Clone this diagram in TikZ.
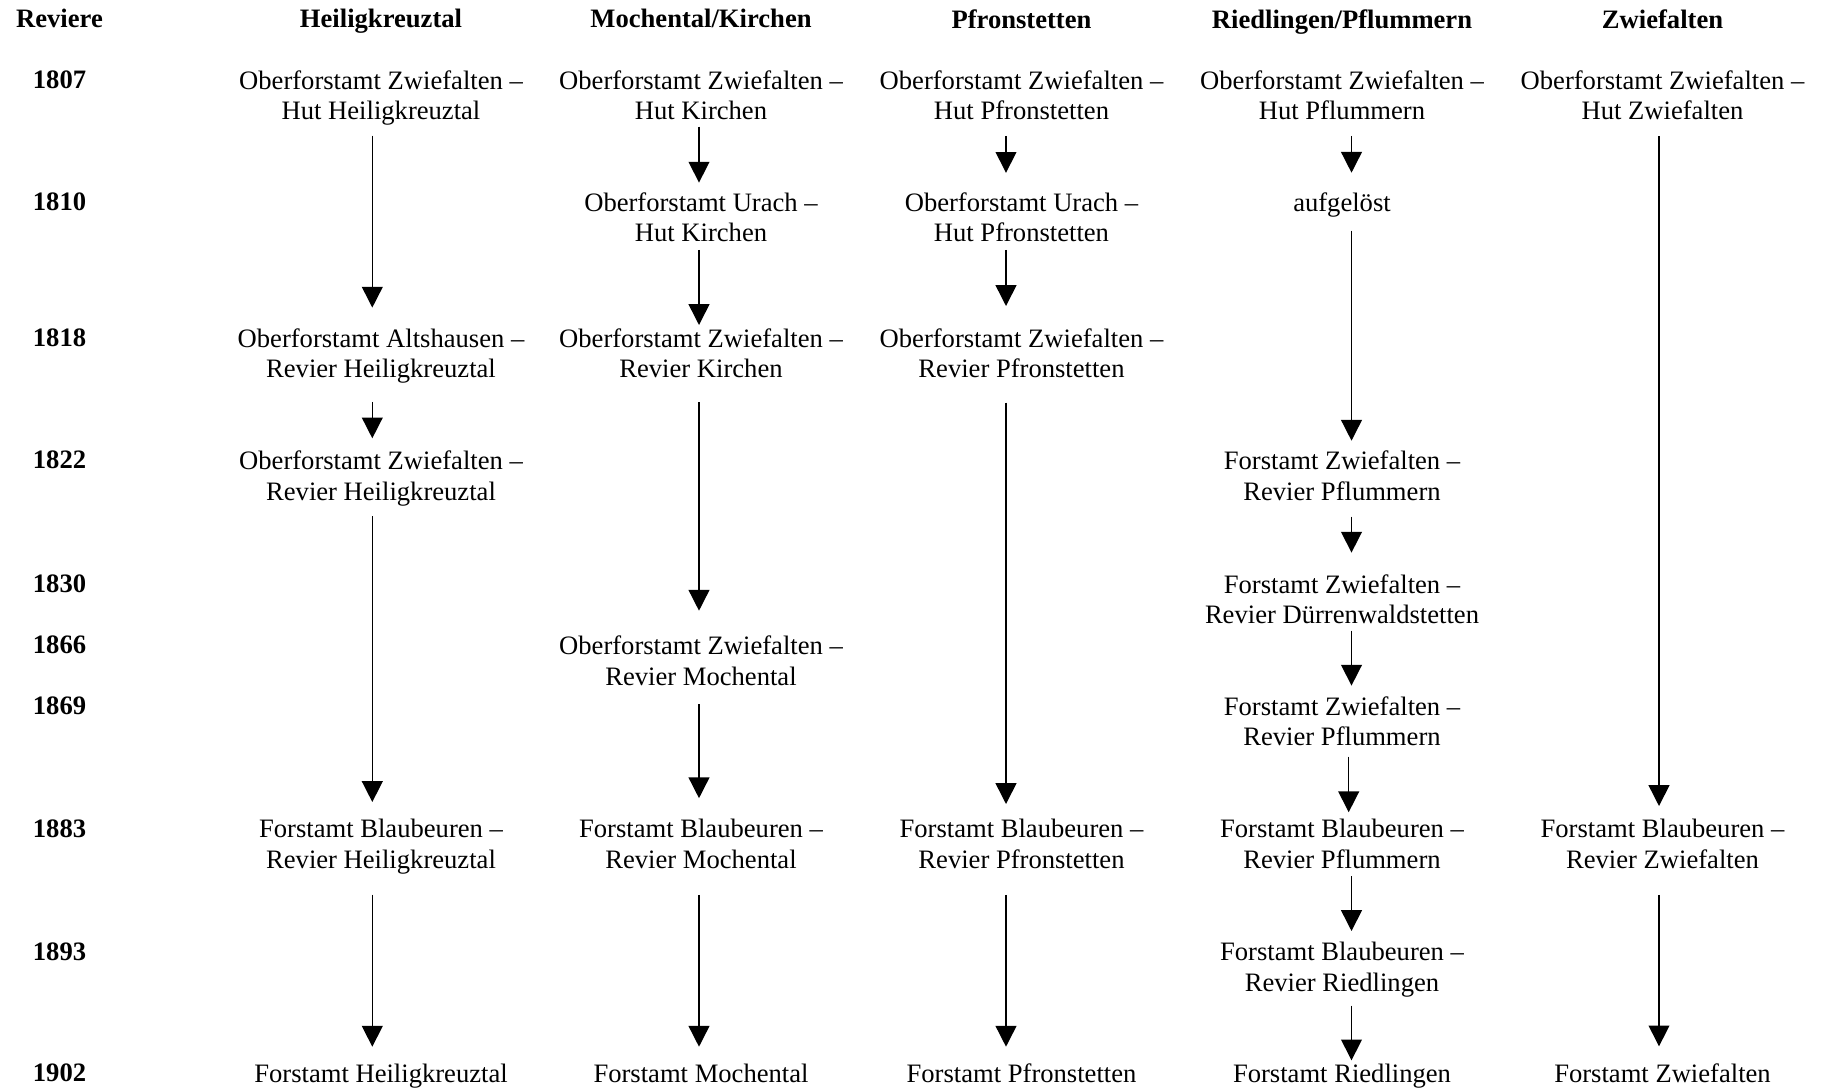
\documentclass[tikz,border=0pt]{standalone}
\usepackage{fontspec}
\setmainfont{Liberation Serif}
\usepackage{tikz}
\usetikzlibrary{arrows.meta}
\newcommand*{\cellfont}{\fontsize{13.3pt}{15.2pt}\selectfont}
\newcommand{\flowarrow}[5]{%
% from node, to node, arrow column,
% start gap, end gap
  \draw[flowline, shorten <=#4, shorten >=#5] (#1.south -| #3) -- (#2.north -| #3);
}
\tikzset{
  cell/.style = {anchor = north, inner sep = 0pt, align = center, font = \cellfont},
  headcell/.style = {cell, font = \cellfont\bfseries},
  flowline/.style = {line width = 0.75pt, -{Triangle[length = 10.4pt, width = 10.4pt]}}
}

\begin{document}
\begin{tikzpicture}[x = 0.5pt, y = -0.5pt]
    \useasboundingbox (0,0) rectangle (1825,1088);
    % column heads
    \node[headcell] (hdrev) at (59.5,9.1) {Reviere};
    \node[headcell] (hdheil) at (381,9.1) {Heiligkreuztal};
    \node[headcell] (hdmoch) at (701,9.1) {Mochental/Kirchen};
    \node[headcell] (hdpfr) at (1021.5,9.1) {Pfronstetten};
    \node[headcell] (hdried) at (1342,9.1) {Riedlingen/Pflummern};
    \node[headcell] (hdzwie) at (1662.5,9.1) {Zwiefalten};
    % years
    \node[headcell] (y1807) at (59.5,70.1) {1807};
    \node[headcell] (y1810) at (59.5,192.1) {1810};
    \node[headcell] (y1818) at (59.5,328.1) {1818};
    \node[headcell] (y1822) at (59.5,450.6) {1822};
    \node[headcell] (y1830) at (59.5,574.1) {1830};
    \node[headcell] (y1866) at (59.5,635.6) {1866};
    \node[headcell] (y1869) at (59.5,696.1) {1869};
    \node[headcell] (y1883) at (59.5,819.1) {1883};
    \node[headcell] (y1893) at (59.5,942.1) {1893};
    \node[headcell] (y1902) at (59.5,1063.6) {1902};
    % Heiligkreuztal
    \node[cell] (h07) at (381,70.1) {Oberforstamt Zwiefalten –\\Hut Heiligkreuztal};
    \node[cell] (h18) at (381,328.1) {Oberforstamt Altshausen –\\Revier Heiligkreuztal};
    \node[cell] (h22) at (381,450.6) {Oberforstamt Zwiefalten –\\Revier Heiligkreuztal};
    \node[cell] (h83) at (381,819.1) {Forstamt Blaubeuren –\\Revier Heiligkreuztal};
    \node[cell] (h02) at (381,1063.6) {Forstamt Heiligkreuztal};
    % Mochental/Kirchen
    \node[cell] (m07) at (701,70.1) {Oberforstamt Zwiefalten –\\Hut Kirchen};
    \node[cell] (m10) at (701,192.1) {Oberforstamt Urach –\\Hut Kirchen};
    \node[cell] (m18) at (701,328.1) {Oberforstamt Zwiefalten –\\Revier Kirchen};
    \node[cell] (m66) at (701,635.6) {Oberforstamt Zwiefalten –\\Revier Mochental};
    \node[cell] (m83) at (701,819.1) {Forstamt Blaubeuren –\\Revier Mochental};
    \node[cell] (m02) at (701,1063.6) {Forstamt Mochental};
    % Pfronstetten
    \node[cell] (p07) at (1021.5,70.1) {Oberforstamt Zwiefalten –\\Hut Pfronstetten};
    \node[cell] (p10) at (1021.5,192.1) {Oberforstamt Urach –\\Hut Pfronstetten};
    \node[cell] (p18) at (1021.5,328.1) {Oberforstamt Zwiefalten –\\Revier Pfronstetten};
    \node[cell] (p83) at (1021.5,819.1) {Forstamt Blaubeuren –\\Revier Pfronstetten};
    \node[cell] (p02) at (1021.5,1063.6) {Forstamt Pfronstetten};
    % Riedlingen/Pflummern
    \node[cell] (r07) at (1342,70.1) {Oberforstamt Zwiefalten –\\Hut Pflummern};
    \node[cell] (r10) at (1342,192.4) {aufgelöst};
    \node[cell] (r22) at (1342,450.6) {Forstamt Zwiefalten –\\Revier Pflummern};
    \node[cell] (r30) at (1342,574.1) {Forstamt Zwiefalten –\\Revier Dürrenwaldstetten};
    \node[cell] (r69) at (1342,696.1) {Forstamt Zwiefalten –\\Revier Pflummern};
    \node[cell] (r83) at (1342,819.1) {Forstamt Blaubeuren –\\Revier Pflummern};
    \node[cell] (r93) at (1342,942.1) {Forstamt Blaubeuren –\\Revier Riedlingen};
    \node[cell] (r02) at (1342,1063.6) {Forstamt Riedlingen};
    % Zwiefalten
    \node[cell] (z07) at (1662.5,70.1) {Oberforstamt Zwiefalten –\\Hut Zwiefalten};
    \node[cell] (z83) at (1662.5,819.1) {Forstamt Blaubeuren –\\Revier Zwiefalten};
    \node[cell] (z02) at (1662.5,1063.6) {Forstamt Zwiefalten};
    % arrow columns
    \coordinate (ah) at (372.3,0);
    \coordinate (am) at (699,0);
    \coordinate (ap) at (1006,0);
    \coordinate (ar) at (1351.5,0);
    \coordinate (arb) at (1348.7,0);
    \coordinate (az) at (1659,0);
    % arrows
    \flowarrow{h07}{h18}{ah}{4.95pt}{10.25pt};
    \flowarrow{h18}{h22}{ah}{9.05pt}{6.15pt};
    \flowarrow{h22}{h83}{ah}{4.95pt}{8.55pt};
    \flowarrow{h83}{h02}{ah}{10.05pt}{8.45pt};
    \flowarrow{m07}{m10}{am}{3.15pt}{4.75pt};
    \flowarrow{m10}{m18}{am}{3.75pt}{1.55pt};
    \flowarrow{m18}{m66}{am}{11.95pt}{12.45pt};
    \flowarrow{m66}{m83}{am}{9.25pt}{10.45pt};
    \flowarrow{m83}{m02}{am}{12.95pt}{8.45pt};
    \flowarrow{p07}{p10}{ap}{7.75pt}{9.65pt};
    \flowarrow{p10}{p18}{ap}{3.75pt}{11.05pt};
    \flowarrow{p18}{p83}{ap}{12.15pt}{7.55pt};
    \flowarrow{p83}{p02}{ap}{12.95pt}{8.45pt};
    \flowarrow{r07}{r10}{ar}{7.75pt}{9.85pt};
    \flowarrow{r10}{r22}{ar}{6.45pt}{4.95pt};
    \flowarrow{r22}{r30}{ar}{7.95pt}{10.75pt};
    \flowarrow{r30}{r69}{ar}{3.15pt}{5.25pt};
    \flowarrow{r69}{r83}{arb}{5.15pt}{3.45pt};
    \flowarrow{r83}{r93}{ar}{3.55pt}{5.55pt};
    \flowarrow{r93}{r02}{ar}{4.05pt}{1.65pt};
    \flowarrow{z07}{z83}{az}{7.95pt}{6.55pt};
    \flowarrow{z83}{z02}{az}{12.95pt}{8.65pt};
\end{tikzpicture}
\end{document}
